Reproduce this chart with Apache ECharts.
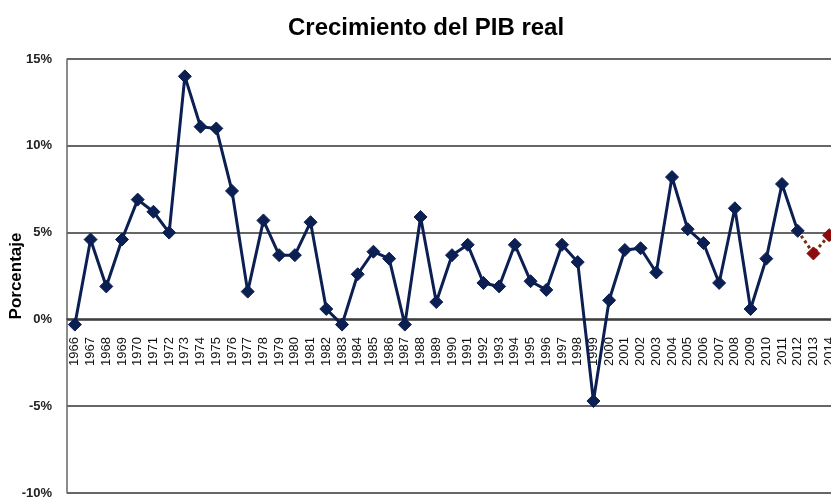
<!DOCTYPE html>
<html>
<head>
<meta charset="utf-8">
<script src="https://cdn.jsdelivr.net/npm/echarts@6/dist/echarts.min.js"></script>
<style>
  html, body { margin: 0; padding: 0; background: #fff; }
  #chart { width: 831px; height: 500px; }
</style>
</head>
<body>
<div id="chart"></div>
<script>
// años
var years = ['1966', '1967', '1968', '1969', '1970', '1971', '1972', '1973', '1974', '1975',
    '1976', '1977', '1978', '1979', '1980', '1981', '1982', '1983', '1984', '1985',
    '1986', '1987', '1988', '1989', '1990', '1991', '1992', '1993', '1994', '1995',
    '1996', '1997', '1998', '1999', '2000', '2001', '2002', '2003', '2004', '2005',
    '2006', '2007', '2008', '2009', '2010', '2011', '2012', '2013', '2014'];
// crecimiento observado 1966-2012 (%)
var growth = [-0.3, 4.6, 1.9, 4.6, 6.9, 6.2, 5.0, 14.0, 11.1, 11.0,
    7.4, 1.6, 5.7, 3.7, 3.7, 5.6, 0.6, -0.3, 2.6, 3.9,
    3.5, -0.3, 5.9, 1.0, 3.7, 4.3, 2.1, 1.9, 4.3, 2.2,
    1.7, 4.3, 3.3, -4.7, 1.1, 4.0, 4.1, 2.7, 8.2, 5.2,
    4.4, 2.1, 6.4, 0.6, 3.5, 7.8, 5.1];
// proyección 2013-2014 (%), empieza en el último dato observado
var projYears = ['2012', '2013', '2014'];
var projection = [5.1, 3.8, 4.85];
var yTicks = { min: -10, max: 15, step: 5 };

var narrow = "'Liberation Sans Narrow', 'Liberation Sans', Arial, sans-serif";
var sans = "'Liberation Sans', Arial, sans-serif";

var projData = years.map(function(y) {
    var i = projYears.indexOf(y);
    if (i < 0) return null;
    if (i === 0) return { value: projection[i], symbol: 'none' };
    return projection[i];
});

var myChart = echarts.init(document.getElementById('chart'));
var option = {
    animation: false,
    backgroundColor: '#fff',
    title: {
        text: 'Crecimiento del PIB real',
        left: 283,
        top: 11,
        textStyle: { fontFamily: narrow, fontSize: 24, fontWeight: 'bold', color: '#000' }
    },
    grid: {
        left: 67, right: -6, top: 59, bottom: 7,
        containLabel: false,
        outerBoundsMode: 'none'
    },
    xAxis: {
        type: 'category',
        data: years,
        boundaryGap: true,
        position: 'bottom',
        // eje de categorías subido hasta la línea del 0%
        offset: -174,
        axisLine: { show: true, onZero: false, lineStyle: { color: '#333', width: 1.5 } },
        axisTick: { show: false },
        axisLabel: {
            rotate: 90, interval: 0, margin: 18,
            fontFamily: sans, fontSize: 13, color: '#111'
        },
        splitLine: { show: false }
    },
    yAxis: {
        type: 'value',
        min: yTicks.min, max: yTicks.max, interval: yTicks.step,
        name: 'Porcentaje',
        nameLocation: 'middle',
        nameRotate: 90,
        nameGap: 42,
        nameMoveOverlap: false,
        nameTextStyle: { fontFamily: sans, fontSize: 17, fontWeight: 'bold', color: '#000' },
        axisLine: { show: true, lineStyle: { color: '#666', width: 1.5 } },
        axisTick: { show: false },
        axisLabel: {
            formatter: '{value}%', margin: 15,
            fontFamily: sans, fontSize: 13, fontWeight: 'bold', color: '#222'
        },
        splitLine: { show: true, lineStyle: { color: '#333', width: 1.5 } }
    },
    series: [{
        name: 'Proyección',
        type: 'line',
        data: projData,
        symbol: 'diamond',
        symbolSize: 13,
        z: 2,
        lineStyle: { color: '#7a2a10', width: 3, type: 'dotted' },
        itemStyle: { color: '#8b0a0a', borderColor: '#8b0a0a' }
    }, {
        name: 'Crecimiento',
        type: 'line',
        data: growth,
        symbol: 'diamond',
        symbolSize: 13,
        z: 3,
        lineStyle: { color: '#0b1f52', width: 3 },
        itemStyle: { color: '#0b1f52', borderColor: '#0b1f52' }
    }]
};
myChart.setOption(option);
</script>
</body>
</html>
